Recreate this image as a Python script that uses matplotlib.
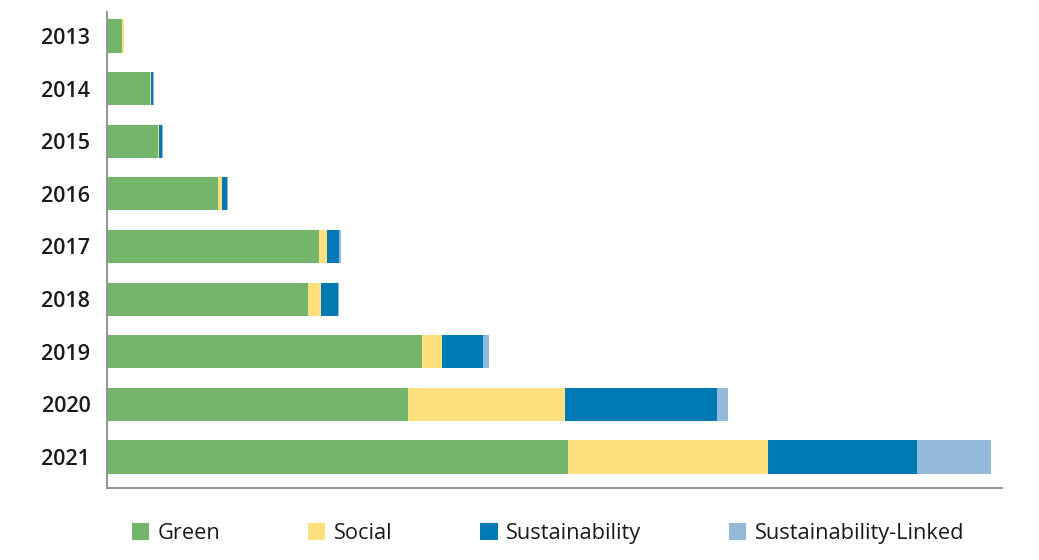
import matplotlib
matplotlib.use("Agg")
import matplotlib.pyplot as plt
import numpy as np

# 연도 (위에서 아래로)
years = ["2013", "2014", "2015", "2016", "2017", "2018", "2019", "2020", "2021"]

# 유형별 값 (그림에서 읽어낸 추정값)
green = [1.5, 4.3, 5.1, 11.1, 21.2, 20.1, 31.5, 30.1, 46.1]
social = [0.2, 0.1, 0.1, 0.4, 0.8, 1.3, 2.0, 15.7, 20.0]
sustainability = [0.0, 0.2, 0.3, 0.5, 1.2, 1.7, 4.1, 15.2, 14.9]
sust_linked = [0.0, 0.1, 0.1, 0.1, 0.2, 0.1, 0.6, 1.1, 7.4]

labels = ["Green", "Social", "Sustainability", "Sustainability-Linked"]
colors = ["#73b66b", "#fddf7e", "#0079b5", "#94badb"]

plt.rcParams['font.family'] = ['Open Sans', 'DejaVu Sans']

fig = plt.figure(figsize=(10.39, 5.6), dpi=100)
ax = fig.add_axes([0.103, 0.1286, 0.861, 0.85])

y = np.arange(len(years))
left = np.zeros(len(years))
for vals, lab, col in zip([green, social, sustainability, sust_linked], labels, colors):
    ax.barh(y, vals, left=left, height=0.63, color=col, label=lab)
    left += np.array(vals)

ax.set_yticks(y)
ax.set_yticklabels(years, fontsize=15.5, fontweight='semibold', color='#1a1a1a')
ax.set_xticks([])
ax.tick_params(axis='y', length=0, pad=12)
ax.set_ylim(len(years) - 1 + 0.59, -0.456)
ax.set_xlim(0, 89.5)

for s in ['top', 'right']:
    ax.spines[s].set_visible(False)
for s in ['left', 'bottom']:
    ax.spines[s].set_color('#8c8c8c')
    ax.spines[s].set_linewidth(1.3)

fig.legend(loc='center', bbox_to_anchor=(0.5275, 0.047), ncol=4, frameon=False,
           fontsize=15.7, handlelength=0.8, handleheight=0.8, handletextpad=0.4,
           columnspacing=4.0, labelcolor='#1a1a1a')

fig.savefig("out.png", dpi=100)
